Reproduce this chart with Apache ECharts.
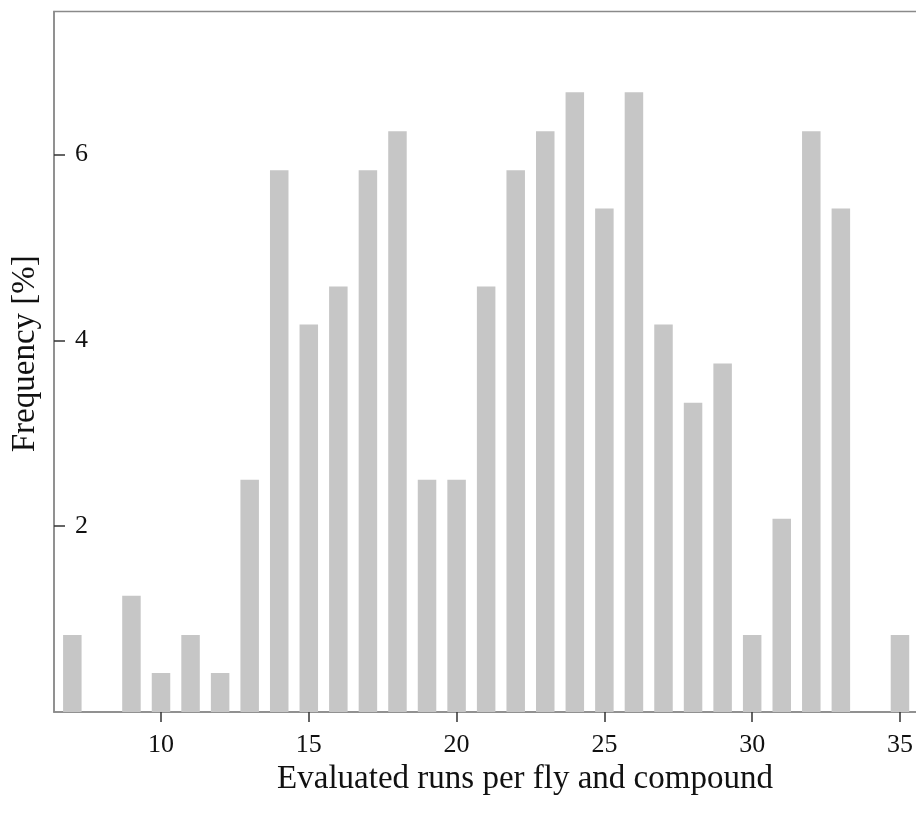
<!DOCTYPE html>
<html>
<head>
<meta charset="utf-8">
<script src="https://cdn.jsdelivr.net/npm/echarts@6/dist/echarts.min.js"></script>
<style>
  html, body { margin: 0; padding: 0; background: #fff; }
  #data { width: 916px; height: 814px; }
</style>
</head>
<body>
<div id="data"></div>
<script>
// runs per fly and compound (x) and share of cases in percent (y)
var runs = [7, 8, 9, 10, 11, 12, 13, 14, 15, 16, 17, 18, 19, 20, 21,
  22, 23, 24, 25, 26, 27, 28, 29, 30, 31, 32, 33, 34, 35];
var frequency = [0.83, 0, 1.25, 0.42, 0.83, 0.42, 2.5, 5.83, 4.17, 4.58, 5.83, 6.25, 2.5, 2.5, 4.58,
  5.83, 6.25, 6.67, 5.42, 6.67, 4.17, 3.33, 3.75, 0.83, 2.08, 6.25, 5.42, 0, 0.83];
var xTicks = [10, 15, 20, 25, 30, 35];
var yTicks = [2, 4, 6];

var serif = '"Liberation Serif", "DejaVu Serif", serif';
var axisGrey = '#8a8a8a';

var myChart = echarts.init(document.getElementById('data'));
var points = runs.map(function (r, i) { return [r, frequency[i]]; });

myChart.setOption({
  animation: false,
  grid: {
    left: 54,
    right: -2,
    top: 11.5,
    bottom: 102,
    containLabel: false,
    outerBoundsMode: 'none',
    show: true,
    borderColor: axisGrey,
    borderWidth: 1.5
  },
  xAxis: [
    {
      type: 'value',
      min: 6.38,
      max: 35.61,
      splitLine: { show: false },
      axisLine: { lineStyle: { color: axisGrey, width: 1.5 } },
      axisTick: {
        customValues: xTicks,
        length: 10,
        lineStyle: { color: '#333', width: 1.5 }
      },
      axisLabel: {
        customValues: xTicks,
        margin: 20,
        color: '#111',
        fontFamily: serif,
        fontSize: 26
      },
      name: 'Evaluated runs per fly and compound',
      nameLocation: 'middle',
      nameGap: 48,
      nameTextStyle: {
        color: '#111',
        fontFamily: serif,
        fontSize: 33,
        padding: [0, 0, 0, 78] // title sits a bit right of the axis centre
      }
    }
  ],
  yAxis: [
    {
      type: 'value',
      min: 0,
      max: 7.54,
      splitLine: { show: false },
      axisLine: { show: true, lineStyle: { color: axisGrey, width: 1.5 } },
      axisTick: {
        show: true,
        inside: true,
        customValues: yTicks,
        length: 11,
        lineStyle: { color: '#333', width: 1.5 }
      },
      axisLabel: {
        inside: true,
        customValues: yTicks,
        margin: 21,
        color: '#111',
        fontFamily: serif,
        fontSize: 26
      },
      name: 'Frequency [%]',
      nameLocation: 'middle',
      nameGap: 12,
      nameTextStyle: {
        color: '#111',
        fontFamily: serif,
        fontSize: 33,
        padding: [0, 0, 0, 16] // nudge upwards a little
      }
    }
  ],
  series: [
    {
      type: 'bar',
      barWidth: 18.5,
      itemStyle: { color: '#c6c6c6' },
      data: points
    }
  ]
});
</script>
</body>
</html>
